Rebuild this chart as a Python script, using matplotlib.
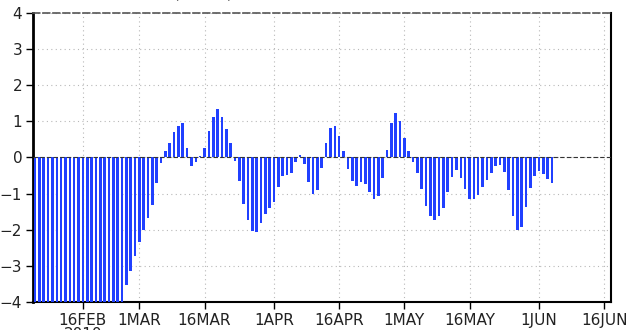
import matplotlib
matplotlib.use("Agg")
import matplotlib.pyplot as plt
import matplotlib.dates as mdates
import numpy as np
import pandas as pd

# daily anomaly, 5 Feb - 4 Jun 2010 (values below -4 are off the chart)
feb = [-4.5] * 21 + [-3.54, -3.14, -2.74]
mar = [-2.35, -2.02, -1.69, -1.31, -0.70, -0.16, 0.19, 0.41, 0.69, 0.88,
       0.96, 0.26, -0.25, -0.12, 0.03, 0.26, 0.73, 1.13, 1.33, 1.12,
       0.80, 0.41, -0.09, -0.66, -1.29, -1.73, -2.05, -2.06, -1.81, -1.57,
       -1.41]
apr = [-1.24, -0.81, -0.52, -0.49, -0.42, -0.13, 0.08, -0.18, -0.68, -1.01,
       -0.89, -0.30, 0.41, 0.81, 0.87, 0.59, 0.19, -0.31, -0.66, -0.79,
       -0.69, -0.74, -0.96, -1.15, -1.06, -0.56, 0.20, 0.94, 1.22, 1.01]
may = [0.53, 0.17, -0.13, -0.44, -0.87, -1.34, -1.62, -1.73, -1.62, -1.40,
       -0.95, -0.54, -0.35, -0.56, -0.88, -1.15, -1.15, -1.03, -0.81, -0.63,
       -0.43, -0.23, -0.20, -0.40, -0.91, -1.61, -2.01, -1.93, -1.37, -0.84,
       -0.52]
jun = [-0.38, -0.45, -0.59, -0.70]

values = feb + mar + apr + may + jun
dates = pd.date_range("2010-02-05", periods=len(values), freq="D")

tick_dates = ["2010-02-16", "2010-03-01", "2010-03-16", "2010-04-01", "2010-04-16",
              "2010-05-01", "2010-05-16", "2010-06-01", "2010-06-16"]
tick_labels = ["16FEB\n2010", "1MAR", "16MAR", "1APR", "16APR",
               "1MAY", "16MAY", "1JUN", "16JUN"]
y_ticks = [-4, -3, -2, -1, 0, 1, 2, 3, 4]

fig = plt.figure(figsize=(6.28, 3.30), dpi=100)
ax = fig.add_axes([0.053, 0.085, 0.920, 0.876])

x = mdates.date2num(dates)
ax.bar(x, values, width=0.6, color="#2040ff", edgecolor="none", zorder=3)

ax.set_xlim(mdates.date2num(pd.Timestamp("2010-02-04 14:00")),
            mdates.date2num(pd.Timestamp("2010-06-17 14:00")))
ax.set_ylim(-4, 4)

ax.set_xticks(mdates.date2num(pd.to_datetime(tick_dates)))
ax.set_xticklabels(tick_labels, fontsize=10, color="#222222", linespacing=0.95,
                   va="top")
ax.set_yticks(y_ticks)
ax.tick_params(axis="both", direction="out", length=5, width=1, color="black",
               labelsize=11, labelcolor="#222222")
ax.tick_params(axis="x", pad=3)
ax.tick_params(axis="y", pad=3)

ax.grid(True, color="#b8b8b8", linestyle=(0, (1, 3)), linewidth=0.8, zorder=0)
ax.axhline(0, color="#333333", linestyle=(0, (4, 2)), linewidth=0.8, zorder=4)

ax.spines["left"].set_linewidth(2)
ax.spines["bottom"].set_linewidth(1.5)
ax.spines["right"].set_linewidth(1.5)
ax.spines["top"].set_linewidth(1.2)
ax.spines["top"].set_color("#555555")
ax.spines["top"].set_linestyle((0, (4, 2)))

# clipped leftovers of a title above the frame
fig.text(177 / 628, 1 - 8 / 330, "ˋ", fontsize=8, color="#333333", ha="center")
fig.text(229 / 628, 1 - 8 / 330, "ˊ", fontsize=8, color="#333333", ha="center")

fig.savefig("out.png", dpi=100)
